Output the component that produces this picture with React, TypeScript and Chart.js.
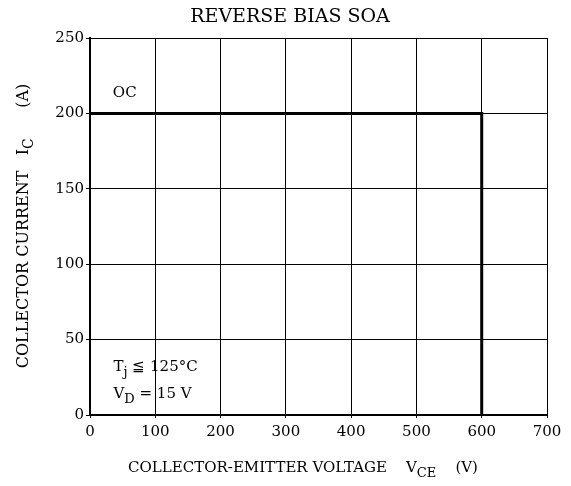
import React, { useEffect, useRef } from "react";
import { Chart, registerables } from "chart.js";

Chart.register(...registerables);

const voltage = [0, 600, 600];
const current = [200, 200, 0];
const xTickValues = [0, 100, 200, 300, 400, 500, 600, 700];
const yTickValues = [0, 50, 100, 150, 200, 250];

const titleText = "REVERSE BIAS SOA";
const FONT = "'DejaVu Serif', serif";

type Seg = { t: string; sub?: boolean };

function drawSegs(ctx: CanvasRenderingContext2D, segs: Seg[], x: number, y: number, size: number, align: "left" | "center") {
  const subSize = Math.round(size * 0.85);
  let total = 0;
  const widths = segs.map((s) => {
    ctx.font = `${s.sub ? subSize : size}px ${FONT}`;
    const w = ctx.measureText(s.t).width;
    total += w;
    return w;
  });
  let cx = align === "center" ? x - total / 2 : x;
  segs.forEach((s, i) => {
    ctx.font = `${s.sub ? subSize : size}px ${FONT}`;
    ctx.fillText(s.t, cx, s.sub ? y + size * 0.3 : y);
    cx += widths[i];
  });
}

const textPlugin = {
  id: "textPlugin",
  afterDraw(chart: any) {
    const ctx: CanvasRenderingContext2D = chart.ctx;
    const xs = chart.scales.x;
    const ys = chart.scales.y;
    ctx.save();
    ctx.fillStyle = "#000";
    ctx.textBaseline = "alphabetic";
    // title
    ctx.font = `19px ${FONT}`;
    ctx.textAlign = "center";
    ctx.fillText(titleText, 282, 14);
    ctx.textAlign = "left";
    // OC label
    drawSegs(ctx, [{ t: "OC" }], xs.getPixelForValue(35), ys.getPixelForValue(211), 15, "left");
    // conditions
    drawSegs(ctx, [{ t: "T" }, { t: "j", sub: true }, { t: " ≦ 125°C" }], xs.getPixelForValue(36), ys.getPixelForValue(29), 15, "left");
    drawSegs(ctx, [{ t: "V" }, { t: "D", sub: true }, { t: " = 15 V" }], xs.getPixelForValue(36), ys.getPixelForValue(11), 15, "left");
    // x axis title
    drawSegs(
      ctx,
      [{ t: "COLLECTOR-EMITTER VOLTAGE    V" }, { t: "CE", sub: true }, { t: "    (V)" }],
      295,
      464,
      15,
      "center"
    );
    // y axis title
    ctx.translate(20, 218);
    ctx.rotate(-Math.PI / 2);
    drawSegs(ctx, [{ t: "COLLECTOR CURRENT   I" }, { t: "C", sub: true }, { t: "      (A)" }], 0, 0, 16, "center");
    ctx.restore();
  },
};

export default function App() {
  const ref = useRef<HTMLCanvasElement | null>(null);
  useEffect(() => {
    if (!ref.current) return;
    const chart = new Chart(ref.current, {
      type: "scatter",
      data: {
        datasets: [
          {
            data: voltage.map((v, i) => ({ x: v, y: current[i] })),
            showLine: true,
            borderColor: "#000",
            borderWidth: 3,
            pointRadius: 0,
            fill: false,
          },
        ],
      },
      options: {
        animation: false,
        responsive: false,
        events: [],
        layout: { padding: { left: 0, right: 16, top: 30, bottom: 0 } },
        plugins: { legend: { display: false }, tooltip: { enabled: false }, title: { display: false } },
        scales: {
          x: {
            type: "linear",
            min: 0,
            max: 700,
            afterBuildTicks: (s: any) => {
              s.ticks = xTickValues.map((v) => ({ value: v }));
            },
            afterFit: (s: any) => {
              s.height = 63;
              s.paddingLeft = 0;
              s.paddingRight = 0;
            },
            grid: { color: "#000", lineWidth: 1, tickLength: 3, drawTicks: true },
            border: { color: "#000", width: 2 },
            ticks: { color: "#000", font: { family: FONT, size: 15 }, padding: 5, maxRotation: 0 },
          },
          y: {
            type: "linear",
            min: 0,
            max: 250,
            afterBuildTicks: (s: any) => {
              s.ticks = yTickValues.map((v) => ({ value: v }));
            },
            afterFit: (s: any) => {
              s.width = 82;
              s.paddingTop = 0;
              s.paddingBottom = 0;
            },
            grid: { color: "#000", lineWidth: 1, tickLength: 4 },
            border: { color: "#000", width: 2 },
            ticks: { color: "#000", font: { family: FONT, size: 15 }, padding: 2 },
          },
        },
      },
      plugins: [textPlugin],
    } as any);
    return () => chart.destroy();
  }, []);
  return <canvas ref={ref} width={555} height={470} style={{ display: "block" }} />;
}
